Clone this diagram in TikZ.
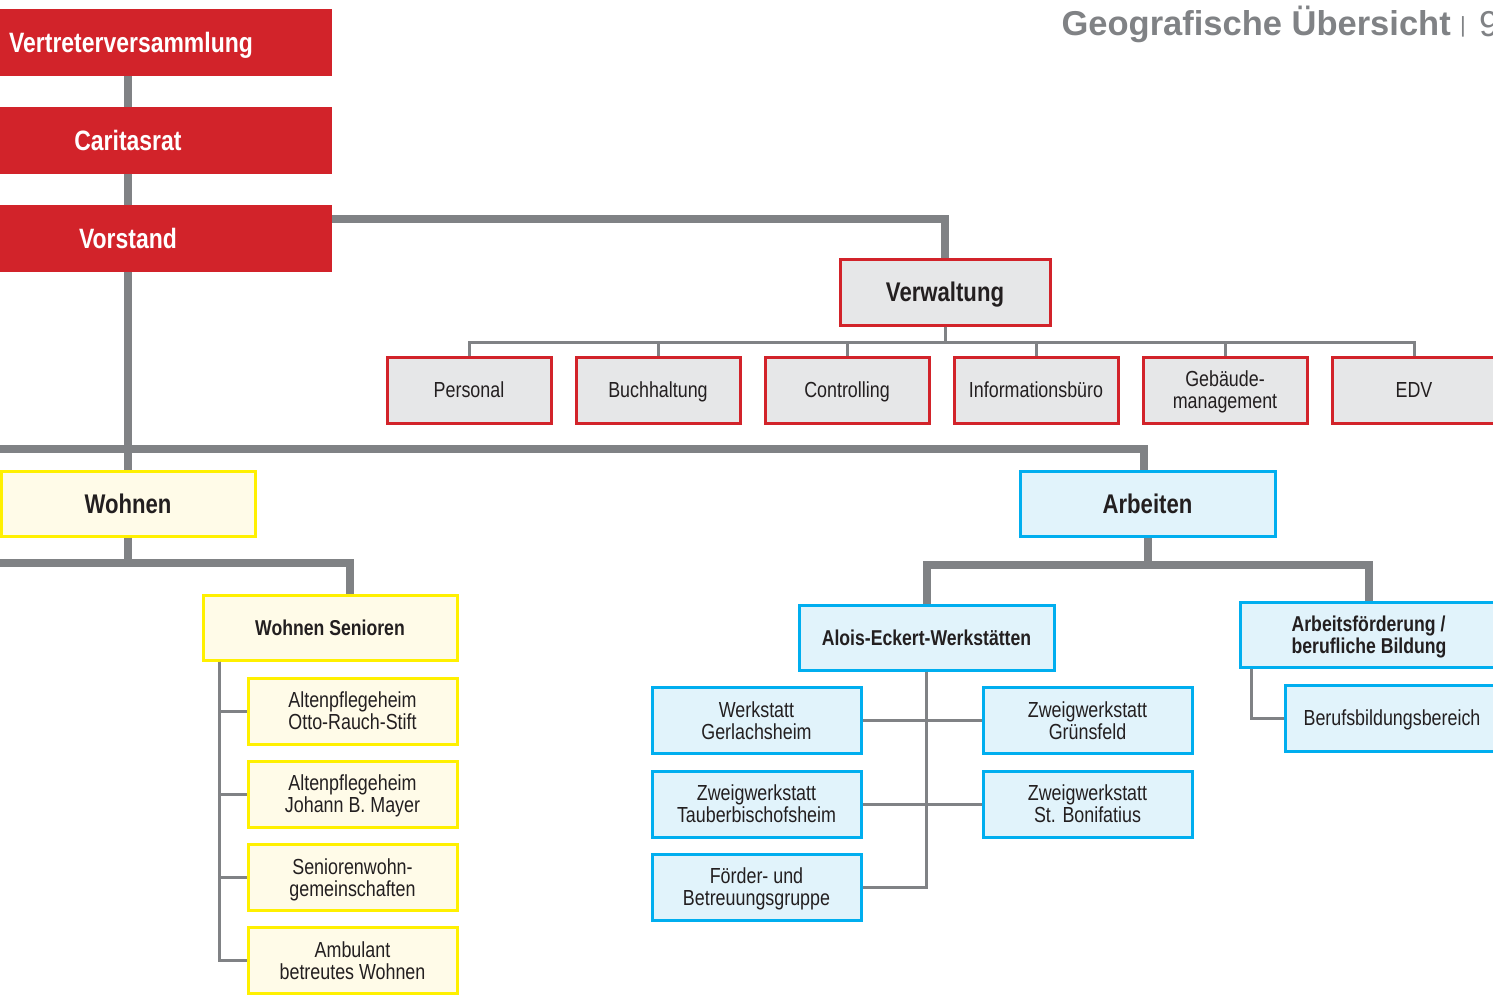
\documentclass[tikz,border=0pt]{standalone}
\usepackage{fontspec}
\setmainfont{Liberation Sans}[FakeStretch=0.82]
\newfontfamily\headfont{Liberation Sans}

\definecolor{cared}{RGB}{210,35,42}
\definecolor{calines}{RGB}{128,130,133}
\definecolor{cagray}{RGB}{230,231,232}
\definecolor{cayellow}{RGB}{255,240,0}
\definecolor{cayellowfill}{RGB}{255,251,232}
\definecolor{cablue}{RGB}{0,174,239}
\definecolor{cabluefill}{RGB}{225,243,251}
\definecolor{cadark}{RGB}{35,31,32}

\tikzset{
  redbox/.style={fill=cared, text=white, inner sep=0pt, minimum width=408pt, text depth=0pt,
    minimum height=67pt, font=\bfseries\fontsize{28}{30}\selectfont},
  admhead/.style={draw=cared, line width=3pt, fill=cagray, text=cadark, inner sep=0pt, text depth=0pt,
    minimum width=210pt, minimum height=66pt, font=\bfseries\fontsize{27}{29}\selectfont},
  admbox/.style={draw=cared, line width=3pt, fill=cagray, text=cadark, inner sep=0pt, text depth=0pt,
    minimum width=164pt, minimum height=66pt, align=center, font=\fontsize{21.8}{22}\selectfont},
  wohnhead/.style={draw=cayellow, line width=3pt, fill=cayellowfill, text=cadark, inner sep=0pt, text depth=0pt,
    minimum width=254pt, minimum height=65pt, font=\bfseries\fontsize{27}{29}\selectfont},
  wohnsub/.style={wohnhead, font=\bfseries\fontsize{21.5}{22}\selectfont},
  wohnbox/.style={draw=cayellow, line width=3pt, fill=cayellowfill, text=cadark, inner sep=0pt, text depth=0pt,
    minimum width=209pt, minimum height=66pt, align=center, font=\fontsize{21.8}{22}\selectfont},
  arbhead/.style={draw=cablue, line width=3pt, fill=cabluefill, text=cadark, inner sep=0pt, text depth=0pt,
    minimum width=255pt, minimum height=65pt, font=\bfseries\fontsize{27}{29}\selectfont},
  arbsub/.style={arbhead, align=left, font=\bfseries\fontsize{21.5}{22}\selectfont},
  arbbox/.style={draw=cablue, line width=3pt, fill=cabluefill, text=cadark, inner sep=0pt, text depth=0pt,
    minimum width=209pt, minimum height=66pt, align=center, font=\fontsize{21.8}{22}\selectfont},
  thickline/.style={draw=calines, line width=8pt},
  thinline/.style={draw=calines, line width=3pt},
  headline/.style={text=calines, inner sep=0pt}
}

\begin{document}
\begin{tikzpicture}[x=1pt,y=-1pt]
  \clip (0,0) rectangle (1493,995);

  \node[headline, anchor=base east, font=\headfont\bfseries\fontsize{34.5}{36}\selectfont] (title) at (1451,36) {Geografische Übersicht};
  \node[headline, anchor=base west, font=\headfont\fontsize{22}{24}\selectfont] (bar) at (1460,33) {|};
  \node[headline, anchor=base west, font=\headfont\fontsize{36}{38}\selectfont] (pagenum) at (1479,37) {9};

  \node[redbox, minimum width=402pt] (vv) at (131,42.5) {Vertreterversammlung};
  \node[redbox] (cr) at (128,140.5) {Caritasrat};
  \node[redbox] (vs) at (128,238.5) {Vorstand};

  \node[admhead] (verw) at (945,292) {Verwaltung};
  \node[admbox] (pers) at (469,390) {Personal};
  \node[admbox] (buch) at (658,390) {Buchhaltung};
  \node[admbox] (contr) at (847,390) {Controlling};
  \node[admbox] (info) at (1036,390) {Informationsbüro};
  \node[admbox] (geb) at (1225,390) {Gebäude-\\management};
  \node[admbox] (edv) at (1414,390) {EDV};

  \node[wohnhead] (wohnen) at (128,503.5) {Wohnen};
  \node[wohnsub] (wsen) at (330,627.5) {Wohnen Senioren};
  \node[wohnbox] (ws1) at (352.5,711) {Altenpflegeheim\\Otto-Rauch-Stift};
  \node[wohnbox] (ws2) at (352.5,794) {Altenpflegeheim\\Johann B. Mayer};
  \node[wohnbox] (ws3) at (352.5,877.5) {Seniorenwohn-\\gemeinschaften};
  \node[wohnbox] (ws4) at (352.5,960.5) {Ambulant\\betreutes Wohnen};

  \node[arbhead] (arb) at (1147.5,503.5) {Arbeiten};
  \node[arbsub, align=center] (ales) at (926.5,637.5) {Alois-Eckert-Werkstätten};
  \node[arbsub, minimum width=258pt] (afb) at (1369,634.5) {Arbeitsförderung /\\berufliche Bildung};
  \node[arbbox, minimum width=214pt] (bbb) at (1392,718) {Berufsbildungsbereich};
  \node[arbbox] (gerl) at (756.5,720.5) {Werkstatt\\Gerlachsheim};
  \node[arbbox] (taub) at (756.5,804) {Zweigwerkstatt\\Tauberbischofsheim};
  \node[arbbox] (foerd) at (756.5,887) {Förder- und\\Betreuungsgruppe};
  \node[arbbox] (gruen) at (1087.5,720.5) {Zweigwerkstatt\\Grünsfeld};
  \node[arbbox] (boni) at (1087.5,804) {Zweigwerkstatt\\St. Bonifatius};

  \coordinate (mainbus) at (-10,449);
  \coordinate (wohnbus) at (-10,563);

  \draw[thickline] (cr.north |- vv.south) -- (cr);
  \draw[thickline] (cr) -- (vs);
  \draw[thickline] (vs.south) -- (wohnen.north);
  \draw[thickline] ([yshift=19.5pt]vs.east) -| (verw.north);
  \draw[thickline] (mainbus) -| ([xshift=-4pt]arb.north);
  \foreach \n in {pers,buch,contr,info,geb,edv}
    \draw[thinline] (verw.south) -- ++(0,16) -| (\n.north);

  \draw[thickline] (wohnen.south) -- (wohnen.south |- wohnbus);
  \draw[thickline] (wohnbus) -| ([xshift=20pt]wsen.north);
  \foreach \n in {ws1,ws2,ws3,ws4}
    \draw[thinline] ([xshift=18pt]wsen.south west) |- (\n.west);

  \draw[thickline] (arb.south) -- ++(0,27) -| (ales.north);
  \draw[thickline] (arb.south) -- ++(0,27) -| (afb.north);
  \foreach \n in {gerl,taub,foerd}
    \draw[thinline] (ales.south) |- (\n.east);
  \foreach \n in {gruen,boni}
    \draw[thinline] (ales.south) |- (\n.west);
  \draw[thinline] ([xshift=13pt]afb.south west) |- (bbb.west);
\end{tikzpicture}
\end{document}
